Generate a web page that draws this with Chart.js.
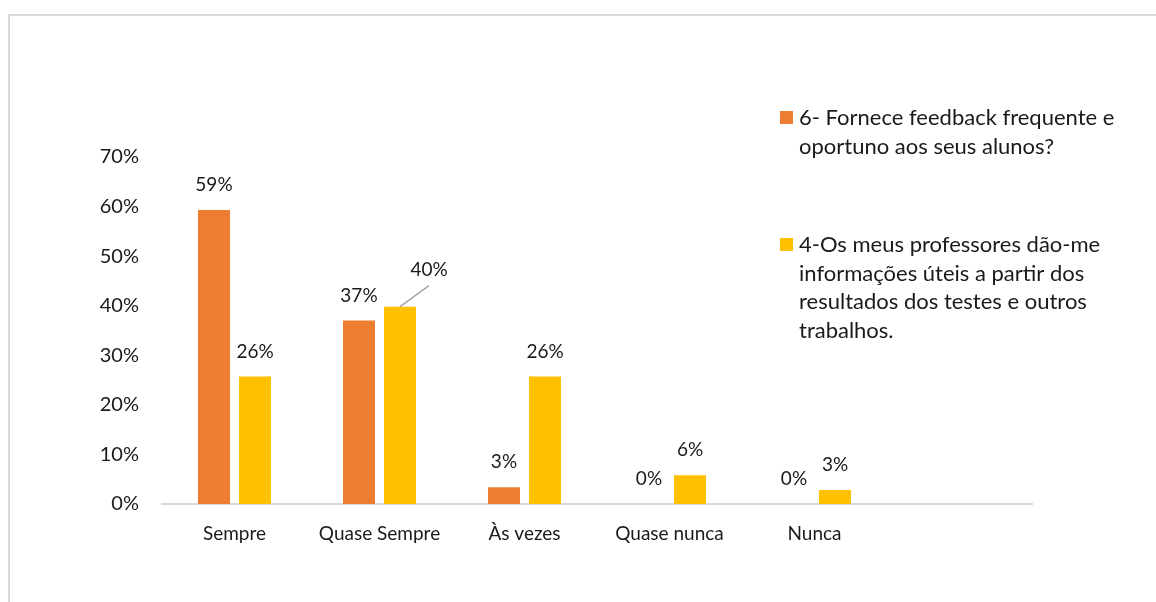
<!DOCTYPE html>
<html>
<head>
<meta charset="utf-8">
<script src="https://cdn.jsdelivr.net/npm/chart.js@4.4.1/dist/chart.umd.min.js"></script>
<style>
  html, body { margin: 0; padding: 0; background: #fff; }
  #wrap { position: relative; width: 1156px; height: 602px; overflow: hidden; }
  #frame {
    position: absolute; left: 8px; top: 14px; width: 1200px; height: 700px;
    border-top: 2px solid #d9d9d9; border-left: 2px solid #d9d9d9;
  }
  canvas { position: absolute; left: 0; top: 0; }
</style>
</head>
<body>
<div id="wrap">
  <div id="frame"></div>
  <canvas id="chart" width="1156" height="602"></canvas>
</div>
<script>
  "use strict";

  const categories = ["Sempre", "Quase Sempre", "Às vezes", "Quase nunca", "Nunca", ""];
  const serieFeedback = [0.593, 0.370, 0.034, 0, 0, null];
  const serieInformacoes = [0.257, 0.398, 0.257, 0.058, 0.028, null];
  const legendFeedback = ["6- Fornece feedback frequente e", "oportuno aos seus alunos?"];
  const legendInformacoes = [
    "4-Os meus professores dão-me",
    "informações úteis a partir dos",
    "resultados dos testes e outros",
    "trabalhos.",
  ];

  const FONT = "Lato, 'Open Sans', sans-serif";
  const TEXT = "#1a1a1a";
  const ORANGE = "#ED7D31";
  const YELLOW = "#FFC000";

  const pct = (v) => Math.round(v * 100) + "%";

  // Rótulos de dados por cima das barras
  const dataLabels = {
    id: "dataLabels",
    afterDatasetsDraw(chart) {
      const ctx = chart.ctx;
      ctx.save();
      ctx.font = "19px " + FONT;
      ctx.fillStyle = TEXT;
      ctx.textAlign = "center";
      ctx.textBaseline = "middle";
      chart.data.datasets.forEach((ds, i) => {
        chart.getDatasetMeta(i).data.forEach((bar, j) => {
          const v = ds.data[j];
          if (v === null || v === undefined) return;
          if (i === 1 && j === 1) {
            // rótulo deslocado com linha de chamada
            ctx.strokeStyle = "#a6a6a6";
            ctx.lineWidth = 1.5;
            ctx.beginPath();
            ctx.moveTo(bar.x, bar.y);
            ctx.lineTo(bar.x + 29, bar.y - 21);
            ctx.stroke();
            ctx.fillText(pct(v), bar.x + 29, bar.y - 37);
            return;
          }
          ctx.fillText(pct(v), bar.x, bar.y - 25);
        });
      });
      ctx.restore();
    },
  };

  // Legenda desenhada à mão, sobreposta à área do gráfico
  const customLegend = {
    id: "customLegend",
    afterDraw(chart) {
      const ctx = chart.ctx;
      ctx.save();
      ctx.font = "22px " + FONT;
      ctx.textAlign = "left";
      ctx.textBaseline = "middle";
      const items = [
        {color: ORANGE, lines: legendFeedback, y: 118},
        {color: YELLOW, lines: legendInformacoes, y: 245},
      ];
      items.forEach((it) => {
        ctx.fillStyle = it.color;
        ctx.fillRect(780, it.y - 7, 13, 13);
        ctx.fillStyle = TEXT;
        it.lines.forEach((ln, k) => ctx.fillText(ln, 799, it.y + k * 28.7));
      });
      ctx.restore();
    },
  };

  document.addEventListener("DOMContentLoaded", () => {
    new Chart(document.getElementById("chart"), {
      type: "bar",
      data: {
        labels: categories,
        datasets: [
          {label: legendFeedback.join(" "), data: serieFeedback, backgroundColor: ORANGE,
            categoryPercentage: 0.566, barPercentage: 0.78},
          {label: legendInformacoes.join(" "), data: serieInformacoes, backgroundColor: YELLOW,
            categoryPercentage: 0.566, barPercentage: 0.78},
        ],
      },
      options: {
        responsive: false,
        animation: false,
        layout: {padding: {left: 0, right: 124, top: 157, bottom: 0}},
        plugins: {legend: {display: false}, tooltip: {enabled: false}},
        scales: {
          x: {
            grid: {display: false, drawTicks: false},
            border: {color: "#d9d9d9", width: 2},
            ticks: {color: TEXT, font: {family: FONT, size: 19}, padding: 18, maxRotation: 0},
            afterFit: (s) => { s.height = 98; },
          },
          y: {
            min: 0,
            max: 0.7,
            grid: {display: false, drawTicks: false},
            border: {display: false},
            ticks: {stepSize: 0.1, color: TEXT, font: {family: FONT, size: 20}, padding: 23,
              callback: (v) => pct(v)},
            afterFit: (s) => { s.width = 162; },
          },
        },
      },
      plugins: [dataLabels, customLegend],
    });
  });
</script>
</body>
</html>
